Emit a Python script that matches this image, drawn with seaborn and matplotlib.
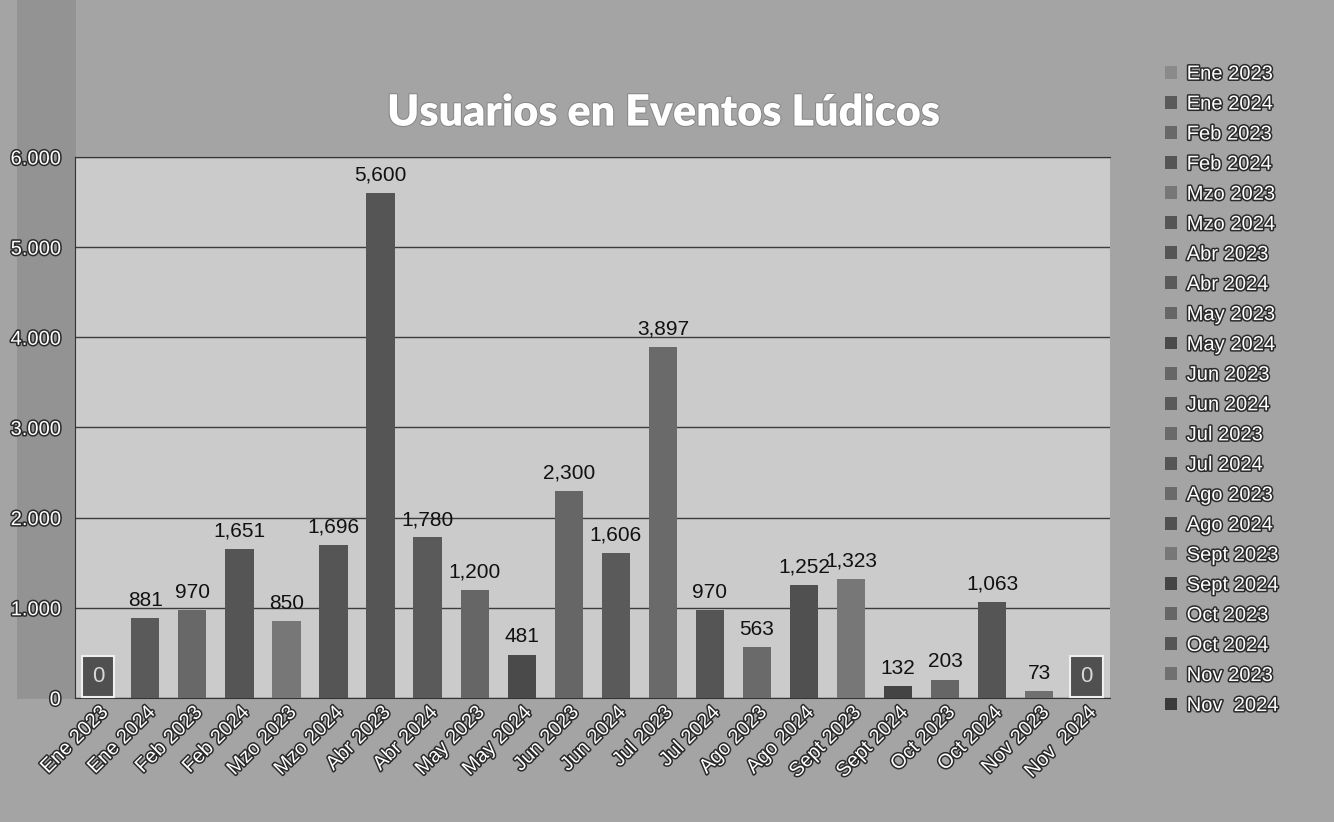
import matplotlib
matplotlib.use("Agg")
import matplotlib.pyplot as plt
import matplotlib.patheffects as pe
from matplotlib.patches import Rectangle
from matplotlib.ticker import FuncFormatter
import seaborn as sns
import pandas as pd

# data
meses = ["Ene 2023", "Ene 2024", "Feb 2023", "Feb 2024", "Mzo 2023", "Mzo 2024",
         "Abr 2023", "Abr 2024", "May 2023", "May 2024", "Jun 2023", "Jun 2024",
         "Jul 2023", "Jul 2024", "Ago 2023", "Ago 2024", "Sept 2023", "Sept 2024",
         "Oct 2023", "Oct 2024", "Nov 2023", "Nov  2024"]
usuarios = [0, 881, 970, 1651, 850, 1696, 5600, 1780, 1200, 481, 2300, 1606,
            3897, 970, 563, 1252, 1323, 132, 203, 1063, 73, 0]

grises = ["#8a8a8a", "#5a5a5a", "#686868", "#555555", "#777777", "#555555",
          "#555555", "#5a5a5a", "#666666", "#4a4a4a", "#666666", "#5a5a5a",
          "#6a6a6a", "#555555", "#6a6a6a", "#505050", "#777777", "#444444",
          "#666666", "#555555", "#707070", "#3a3a3a"]

df = pd.DataFrame({"mes": meses, "usuarios": usuarios})

sns.set_style("white")
plt.rcParams["font.family"] = ["Liberation Sans", "DejaVu Sans"]

fig = plt.figure(figsize=(13.34, 8.22), dpi=100, facecolor="#a4a4a4")
# darker strip behind the y axis labels
fig.add_artist(Rectangle((0.013, 0.15), 0.044, 0.85, transform=fig.transFigure,
                         facecolor="#939393", edgecolor="none", zorder=-1))
ax = fig.add_axes([0.056, 0.151, 0.776, 0.658])
ax.set_facecolor("#cbcbcb")

sns.barplot(data=df, x="mes", y="usuarios", hue="mes", palette=grises,
            dodge=False, width=0.6, legend=True, ax=ax, zorder=3,
            linewidth=0, edgecolor="none")

ax.set_ylim(0, 6000)
ax.set_yticks(range(0, 6001, 1000))
ax.yaxis.set_major_formatter(FuncFormatter(lambda v, p: f"{int(v):,}".replace(",", ".")))
ax.grid(axis="y", color="#3c3c3c", linewidth=1, zorder=1)
ax.set_xlabel("")
ax.set_ylabel("")
ax.spines["right"].set_visible(False)
for s in ["top", "left", "bottom"]:
    ax.spines[s].set_color("#333333")

halo = [pe.withStroke(linewidth=2.2, foreground="#2a2a2a")]
ax.tick_params(axis="both", length=0, labelsize=14.5, labelcolor="white")
ax.tick_params(axis="y", pad=10)
for t in ax.get_yticklabels():
    t.set_path_effects(halo)
plt.setp(ax.get_xticklabels(), rotation=45, ha="right", rotation_mode="anchor")
for t in ax.get_xticklabels():
    t.set_path_effects(halo)

# data labels
for i, v in enumerate(usuarios):
    if v == 0:
        ax.text(i, 240, "0", ha="center", va="center", fontsize=16, color="#d8d8d8",
                bbox=dict(boxstyle="square,pad=0.45", facecolor="#505050",
                          edgecolor="#eeeeee", linewidth=1.5), zorder=5)
    else:
        ax.annotate(f"{v:,}", (i, v), xytext=(0, 6), textcoords="offset points",
                    ha="center", va="bottom", fontsize=15, color="#111111", zorder=5)

leg = ax.legend(loc="upper left", bbox_to_anchor=(1.045, 1.186), frameon=False,
                fontsize=14.5, handlelength=0.6, handleheight=0.6,
                handletextpad=0.5, labelspacing=0.55, borderaxespad=0)
for t in leg.get_texts():
    t.set_color("white")
    t.set_path_effects(halo)

fig.text(0.497, 0.863, "Usuarios en Eventos Lúdicos", ha="center", va="center",
         fontsize=31, fontweight="heavy", color="white",
         family=["Lato", "DejaVu Sans"],
         path_effects=[pe.withStroke(linewidth=1.5, foreground="#888888")])

fig.savefig("out.png", dpi=100, facecolor=fig.get_facecolor())
